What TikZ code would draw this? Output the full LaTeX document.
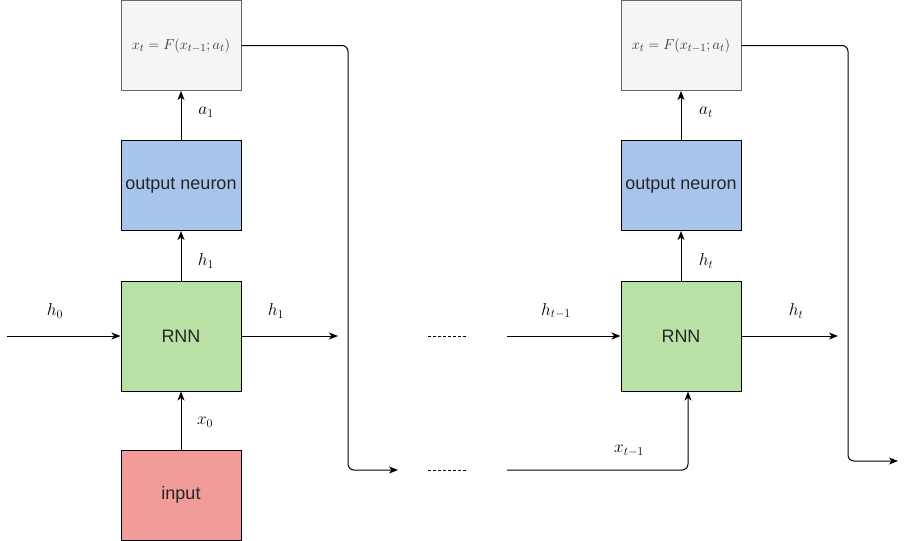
\documentclass[tikz,border=0pt]{standalone}
\usepackage{fontspec}
\setmainfont{Liberation Sans}
\usetikzlibrary{arrows.meta}
\definecolor{grayfill}{HTML}{F5F5F5}
\definecolor{graystroke}{HTML}{666666}
\definecolor{bluefill}{HTML}{A9C4EB}
\definecolor{greenfill}{HTML}{B9E0A5}
\definecolor{redfill}{HTML}{F19C99}
\definecolor{txtgray}{HTML}{333333}
\tikzset{
  box/.style={draw=black, line width=1pt, minimum width=120pt, minimum height=90pt, inner sep=0pt,
    font=\fontsize{18}{21}\selectfont, text=black!85},
  fbox/.style={box, draw=graystroke, fill=grayfill, font=\fontsize{15}{18}\selectfont, text=txtgray},
  obox/.style={box, fill=bluefill},
  rbox/.style={box, fill=greenfill, minimum height=110pt},
  ibox/.style={box, fill=redfill},
  arr/.style={line width=1pt, -{Stealth[length=9pt,width=7pt,inset=2.5pt]}},
  conn/.style={line width=1pt},
  lbl/.style={font=\fontsize{18}{21}\selectfont, inner sep=0pt},
  dotline/.style={line width=0.7pt, dash pattern=on 3pt off 2pt},
}
\begin{document}
\begin{tikzpicture}[x=1pt,y=-1pt]
\useasboundingbox (0,0) rectangle (906,541);
% left column
\node[fbox] (fL) at (181,45.5) {$x_t = F(x_{t-1}; a_t)$};
\node[obox] (oL) at (181,185.5) {output neuron};
\node[rbox] (rL) at (181,336) {RNN};
\node[ibox] (iL) at (181,495) {input};
% right column
\node[fbox] (fR) at (681,45.5) {$x_t = F(x_{t-1}; a_t)$};
\node[obox] (oR) at (681,185.5) {output neuron};
\node[rbox] (rR) at (681,336) {RNN};
% free ends
\coordinate (h0s) at (7,336);
\coordinate (h1e) at (338,336);
\coordinate (fbLc) at (348,470);
\coordinate (fbLe) at (398,470);
\coordinate (hts) at (507,336);
\coordinate (xts) at (507,470);
\coordinate (hte) at (838,336);
\coordinate (fbRc) at (848,461);
\coordinate (fbRe) at (898,461);
\coordinate (d1s) at (428,336);
\coordinate (d1e) at (468,336);
\coordinate (d2s) at (428,470);
\coordinate (d2e) at (468,470);
% left arrows
\draw[arr] (h0s) -- (rL.west);
\draw[arr] (rL.east) -- (h1e);
\draw[arr] (iL.north) -- (rL.south);
\draw[arr] (rL.north) -- (oL.south);
\draw[arr] (oL.north) -- (fL.south);
\draw[arr, rounded corners=6pt] (fL.east) -| (fbLc) -- (fbLe);
% dashed gaps
\draw[dotline] (d1s) -- (d1e);
\draw[dotline] (d2s) -- (d2e);
% right arrows
\draw[arr] (hts) -- (rR.west);
\draw[arr, rounded corners=6pt] (xts) -| ([xshift=7pt]rR.south);
\draw[arr] (rR.east) -- (hte);
\draw[arr] (rR.north) -- (oR.south);
\draw[arr] (oR.north) -- (fR.south);
\draw[arr, rounded corners=6pt] (fR.east) -| (fbRc) -- (fbRe);
% labels
\node[lbl] (la1) at (206,112) {$a_1$};
\node[lbl] (lh1v) at (206,261) {$h_1$};
\node[lbl] (lx0) at (205,422) {$x_0$};
\node[lbl] (lh0) at (55,311) {$h_0$};
\node[lbl] (lh1) at (276,311) {$h_1$};
\node[lbl] (lhtm) at (556,311) {$h_{t-1}$};
\node[lbl] (lht) at (796,311) {$h_t$};
\node[lbl] (lhtv) at (706,261) {$h_t$};
\node[lbl] (lat) at (706,112) {$a_t$};
\node[lbl] (lxtm) at (629,451) {$x_{t-1}$};
\end{tikzpicture}
\end{document}
